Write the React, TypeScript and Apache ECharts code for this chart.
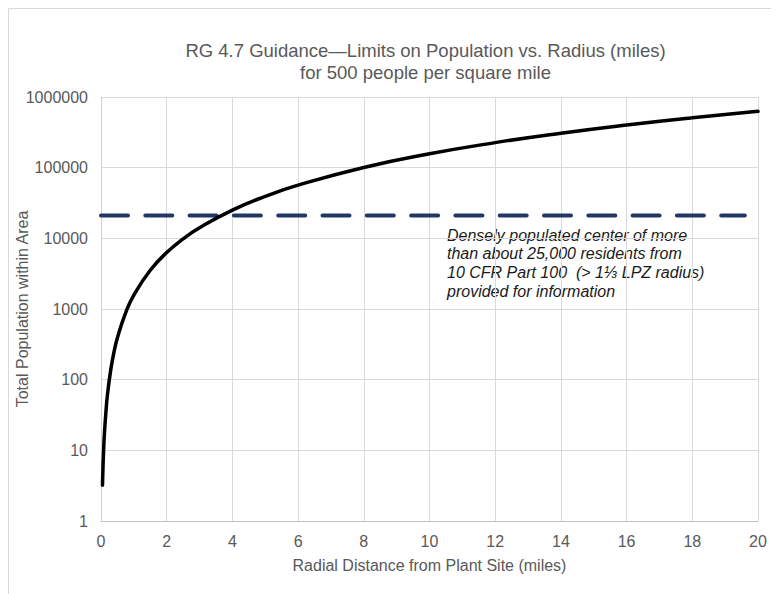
import React, { useEffect, useRef } from "react";
import * as echarts from "echarts";

const titleLines = [
  "RG 4.7 Guidance\u2014Limits on Population vs. Radius (miles)",
  "for 500 people per square mile",
];
const xAxisName = "Radial Distance from Plant Site (miles)";
const yAxisName = "Total Population within Area";
const annotationLines = [
  "Densely populated center of more",
  "than about 25,000 residents from",
  "10 CFR Part 100  (> 1\u2153 LPZ radius)",
  "provided for information",
];

// radius (miles)
const radius = [0.045, 0.06, 0.08, 0.1, 0.15, 0.2, 0.3, 0.4, 0.5, 0.75, 1, 1.5, 2, 2.5, 3, 4, 5, 6, 8, 10, 12, 14, 16, 18, 20];
// total population within area at each radius
const population = [3.2, 5.7, 10, 16, 35, 63, 141, 251, 393, 884, 1571, 3534, 6283, 9817, 14137, 25133, 39270, 56549, 100531, 157080, 226195, 307876, 402124, 508938, 628319];

// dashed reference level
const thresholdX = [0, 19.6];
const thresholdValue = 21000;

const xMin = 0;
const xMax = 20;
const xInterval = 2;
const yMin = 1;
const yMax = 1000000;

export default function App() {
  const ref = useRef<HTMLDivElement>(null);
  useEffect(() => {
    if (!ref.current) return;
    const chart = echarts.init(ref.current, null, { renderer: "svg" });
    const font = "'Liberation Sans', Arial, sans-serif";
    const grey = "#595959";
    chart.setOption({
      animation: false,
      textStyle: { fontFamily: font },
      grid: { left: 93, right: 21, top: 89, bottom: 73, containLabel: false, outerBoundsMode: "none" },
      xAxis: {
        type: "value",
        min: xMin,
        max: xMax,
        interval: xInterval,
        name: xAxisName,
        nameLocation: "middle",
        nameGap: 36,
        nameTextStyle: { color: grey, fontSize: 16, fontFamily: font },
        axisLine: { show: true, lineStyle: { color: "#bfbfbf", width: 1 } },
        axisTick: { show: false },
        axisLabel: { color: grey, fontSize: 16, margin: 12, fontFamily: font },
        splitLine: { show: true, lineStyle: { color: "#d9d9d9", width: 1 } },
      },
      yAxis: {
        type: "log",
        logBase: 10,
        min: yMin,
        max: yMax,
        axisLine: { show: true, lineStyle: { color: "#d0d0d0", width: 1 } },
        axisTick: { show: false },
        axisLabel: {
          color: grey,
          fontSize: 16,
          margin: 13,
          fontFamily: font,
          formatter: (v: number) => String(Math.round(v)),
        },
        splitLine: { show: true, lineStyle: { color: "#d9d9d9", width: 1 } },
        minorSplitLine: { show: false },
      },
      series: [
        {
          type: "line",
          data: thresholdX.map((x) => [x, thresholdValue]),
          showSymbol: false,
          symbol: "none",
          clip: false,
          lineStyle: { color: "#1f3864", width: 4, type: [27, 17.3], cap: "round" },
          z: 2,
        },
        {
          type: "line",
          data: radius.map((r, i) => [r, population[i]]),
          smooth: true,
          showSymbol: false,
          symbol: "none",
          lineStyle: { color: "#000000", width: 3.5, cap: "round" },
          z: 3,
        },
      ],
      graphic: [
        { type: "line", shape: { x1: 0.5, y1: 0.5, x2: 771, y2: 0.5 }, style: { stroke: "#d9d9d9", lineWidth: 1 } },
        { type: "line", shape: { x1: 0.5, y1: 0.5, x2: 0.5, y2: 586 }, style: { stroke: "#d9d9d9", lineWidth: 1 } },
        {
          type: "text",
          x: 14,
          y: 301,
          rotation: Math.PI / 2,
          style: {
            text: yAxisName,
            fill: grey,
            font: `16px ${font}`,
            textAlign: "center",
            textVerticalAlign: "middle",
          },
        },
        ...titleLines.map((t, i) => ({
          type: "text",
          x: 417.5,
          y: 42 + i * 22,
          style: {
            text: t,
            fill: grey,
            font: `18.5px ${font}`,
            textAlign: "center",
            textVerticalAlign: "middle",
          },
        })),
        ...annotationLines.map((t, i) => ({
          type: "text",
          x: 439,
          y: 227 + i * 18.8,
          style: {
            text: t,
            fill: "#1a1a1a",
            font: `italic 16px ${font}`,
            textAlign: "left",
            textVerticalAlign: "middle",
          },
        })),
      ],
    });
    return () => chart.dispose();
  }, []);
  return <div ref={ref} style={{ width: 771, height: 586 }} />;
}
